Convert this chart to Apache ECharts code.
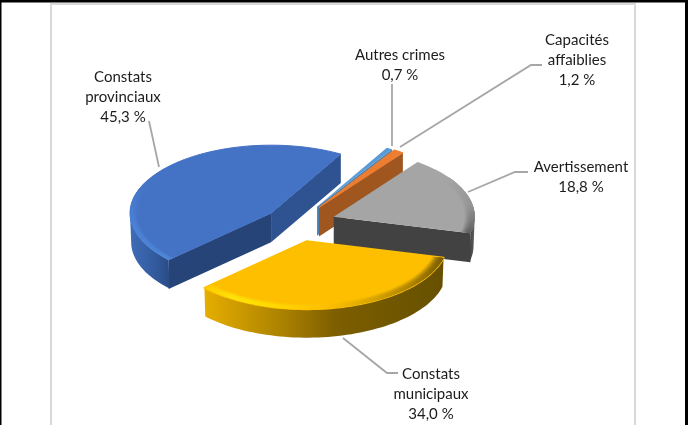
<!DOCTYPE html>
<html><head><meta charset="utf-8">
<style>html,body{margin:0;padding:0;background:#fff}#c{width:690px;height:425px}</style>
<script src="https://cdn.jsdelivr.net/npm/echarts@6/dist/echarts.min.js"></script>
</head><body><div id="c"></div>
<script>
// ---- data ----
const categories = ['Avertissement', 'Constats\nmunicipaux', 'Constats\nprovinciaux', 'Autres crimes', 'Capacités\naffaiblies'];
const values = [18.8, 34.0, 45.3, 0.7, 1.2];
// ---- style and layout ----
const explode = [39, 39, 33, 39, 39];
const topColors = ['#a5a5a5', '#fdbf00', '#4472c4', '#5b9bd5', '#ed7d31'];
const topStroke = [0, 2, 1, 0, 1];
const faceStartColors = ['#424242', '#7a5c00', '#264478', '#4a80b0', '#9e5520'];
const faceEndColors = ['#424242', '#7a5c00', '#2f5290', '#4a80b0', '#a0561f'];
const sideStops = [
  [[0, '#3f3f3f'], [.5, '#505050'], [1, '#666666']],
  [[0, '#e6ae00'], [.3, '#b08500'], [.55, '#7d5e00'], [1, '#665000']],
  [[0, '#3f6cb8'], [.6, '#335c9f'], [1, '#2a4c86']],
  [[0, '#4a80b0'], [1, '#4a80b0']],
  [[0, '#9e5520'], [1, '#9e5520']]
];
// rim: start angle, end angle (degrees, clockwise from top), gradient direction, stops
const rims = [
  {from: 55, to: 104.2, x2: 0, y2: 1, stops: [[0, '#a5a5a5'], [.5, '#949494'], [.85, '#707070'], [1, '#5f5f5f']], width: .07},
  {from: 104.2, to: 226.6, x2: 1, y2: 0, stops: [[0, '#fdc800'], [.12, '#ffe40a'], [.3, '#ffd800'], [.5, '#fdbf00'], [.64, '#e6ae00'], [.86, '#ad8400'], [1, '#7a5c00']], width: .08},
  {from: 226.6, to: 300, x2: 0, y2: 1, stops: [[0, '#4472c4'], [.5, '#4a80d4'], [1, '#4f86d8']], width: .05},
  null, null
];
const rimBands = 6;
const depth = 29, rx = 141, ry = 68;
const bottomInset = .992;
const center = [297, 223];
const startAngle = 36.5;
const labelBoxes = [
  {x: 581, y: 177, line: [[468, 192], [515, 172], [528, 172]]},
  {x: 431, y: 394, line: [[343, 338], [387, 373], [398, 373]]},
  {x: 123, y: 97, line: [[159, 167], [149, 121]]},
  {x: 400, y: 65, line: [[392, 146], [392, 84]]},
  {x: 577, y: 60, line: [[400, 147], [531, 65], [542, 65]]}
];

const total = values.reduce((a, b) => a + b, 0);
const rad = d => d * Math.PI / 180;
const fmt = v => v.toFixed(1).replace('.', ',') + ' %';
const slices = [];
let acc = startAngle;
values.forEach(v => { const a0 = acc; acc += v / total * 360; slices.push([a0, acc]); });

function pt(c, a, f, dy) {
  f = f === undefined ? 1 : f;
  return [c[0] + rx * f * Math.sin(rad(a)), c[1] - ry * f * Math.cos(rad(a)) + (dy || 0)];
}
function arc(c, a0, a1, f, dy) {
  const pts = [], n = Math.max(2, Math.ceil(Math.abs(a1 - a0) / 2));
  for (let i = 0; i <= n; i++) pts.push(pt(c, a0 + (a1 - a0) * i / n, f, dy));
  return pts;
}
function grad(stops, x2, y2) {
  return new echarts.graphic.LinearGradient(0, 0, x2, y2, stops.map(s => ({offset: s[0], color: s[1]})));
}
function poly(points, fill, style) {
  return {type: 'polygon', shape: {points}, style: Object.assign({fill, stroke: null}, style || {})};
}
function renderSlice(params, api) {
  const i = api.value(2);
  const a0 = slices[i][0], a1 = slices[i][1], mid = (a0 + a1) / 2;
  const c = [center[0] + explode[i] * Math.sin(rad(mid)), center[1] - explode[i] * ry / rx * Math.cos(rad(mid))];
  const below = p => [p[0], p[1] + depth];
  const children = [];
  const s0 = pt(c, a0), s1 = pt(c, a1);
  if (Math.sin(rad(a0)) < 0) children.push(poly([c, s0, below(s0), below(c)], faceStartColors[i]));
  if (Math.sin(rad(a1)) > 0) children.push(poly([c, s1, below(s1), below(c)], faceEndColors[i]));
  // visible curved outer wall: angles with a downward facing normal
  for (let k = 0; k < 2; k++) {
    const lo = Math.max(a0, 90 + 360 * k), hi = Math.min(a1, 270 + 360 * k);
    if (hi > lo) {
      const t = arc(c, lo, hi), b = arc(c, hi, lo, bottomInset, depth);
      children.push(poly(t.concat(b), grad(sideStops[i], 1, 0)));
    }
  }
  const stroke = topStroke[i] ? {stroke: topColors[i], lineWidth: topStroke[i], lineJoin: 'round'} : {};
  children.push(poly([c].concat(arc(c, a0, a1)), topColors[i], stroke));
  const rim = rims[i];
  if (rim) {
    for (let b = 0; b < rimBands; b++) {
      const f = 1 - rim.width * (rimBands - b) / rimBands;
      children.push(poly(arc(c, rim.from, rim.to).concat(arc(c, rim.to, rim.from, f)),
        grad(rim.stops, rim.x2, rim.y2), {opacity: .25 + b * .15}));
    }
  }
  return {type: 'group', children};
}
function renderLabel(params, api) {
  const i = api.value(2), box = labelBoxes[i];
  return {type: 'group', children: [
    {type: 'polyline', shape: {points: box.line}, style: {stroke: '#a6a6a6', lineWidth: 1.8, fill: null}},
    {type: 'text', style: {
      text: categories[i] + '\n' + fmt(values[i]),
      x: box.x, y: box.y, align: 'center', verticalAlign: 'middle',
      font: '15px Lato', lineHeight: 20, fill: '#1c1c1c'
    }}
  ]};
}
const rows = values.map((v, i) => [v, categories[i], i]);
const drawOrder = [2, 3, 4, 0, 1];
const chart = echarts.init(document.getElementById('c'), null, {renderer: 'canvas'});
chart.setOption({
  backgroundColor: '#fff',
  animation: false,
  tooltip: {show: false},
  graphic: [
    {type: 'rect', z: -10, shape: {x: 51, y: 4, width: 584, height: 440}, style: {fill: '#fff', stroke: '#d9d9d9', lineWidth: 2}},
    {type: 'rect', z: -9, shape: {x: 0, y: 0, width: 688, height: 2.5}, style: {fill: '#000'}},
    {type: 'rect', z: -9, shape: {x: 0, y: 0, width: 1.5, height: 425}, style: {fill: '#000'}},
    {type: 'rect', z: -9, shape: {x: 685, y: 0, width: 3, height: 425}, style: {fill: '#000'}}
  ],
  series: [
    {type: 'custom', coordinateSystem: 'none', renderItem: renderSlice, data: drawOrder.map(i => rows[i]), z: 2, silent: true},
    {type: 'custom', coordinateSystem: 'none', renderItem: renderLabel, data: rows, z: 3, silent: true}
  ]
});
</script></body></html>
